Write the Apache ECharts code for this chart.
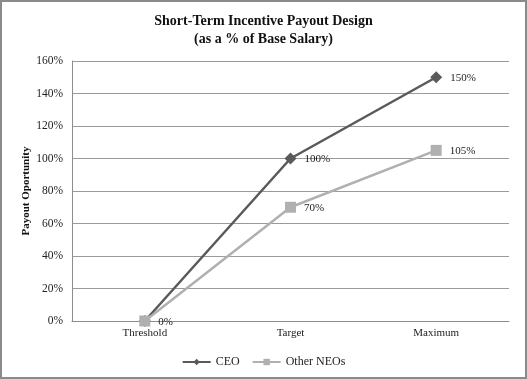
<!DOCTYPE html>
<html><head><meta charset="utf-8">
<script src="https://cdn.jsdelivr.net/npm/echarts@6/dist/echarts.min.js"></script>
<style>
html,body{margin:0;padding:0;background:#fff;}
#c{position:absolute;left:0;top:0;width:523px;height:375px;border:2px solid #8a8a8a;}
</style></head>
<body><div id="c"></div>
<script>
const categories = ['Threshold', 'Target', 'Maximum'];
const ceo = [0, 100, 150];
const otherNEOs = [0, 70, 105];
const yTicks = [0, 20, 40, 60, 80, 100, 120, 140, 160];

const chart = echarts.init(document.getElementById('c'));
const font = 'Liberation Serif, Times New Roman, serif';
const labelCfg = {show: true, position: 'right', distance: 8, offset: [0, 1], formatter: p => p.value + '%', color: '#222', fontFamily: font, fontSize: 11};
chart.setOption({
  animation: false,
  title: {
    text: 'Short-Term Incentive Payout Design\n(as a % of Base Salary)',
    left: 'center', top: 5,
    textStyle: {fontFamily: font, fontWeight: 'bold', fontSize: 14, color: '#111', lineHeight: 18}
  },
  grid: {left: 70, right: 16, top: 59, bottom: 56},
  legend: {
    top: 349, left: 'center', itemWidth: 28, itemHeight: 8, itemGap: 12,
    textStyle: {fontFamily: font, fontSize: 12, color: '#222'},
    data: ['CEO', 'Other NEOs']
  },
  xAxis: {
    type: 'category', data: categories, boundaryGap: true,
    axisLine: {lineStyle: {color: '#8c8c8c'}}, axisTick: {show: false},
    axisLabel: {fontFamily: font, fontSize: 11, color: '#222', margin: 7}
  },
  yAxis: {
    type: 'value', min: yTicks[0], max: yTicks[yTicks.length - 1], interval: 20,
    name: 'Payout Oportunity', nameLocation: 'middle', nameGap: 40, nameMoveOverlap: false,
    nameTextStyle: {fontFamily: font, fontWeight: 'bold', fontSize: 11, color: '#111'},
    axisLine: {show: true, lineStyle: {color: '#8c8c8c'}}, axisTick: {show: false},
    axisLabel: {formatter: '{value}%', fontFamily: font, fontSize: 11.5, color: '#222', margin: 9},
    splitLine: {lineStyle: {color: '#9a9a9a'}}
  },
  series: [
    {name: 'CEO', type: 'line', data: ceo.map((v, i) => i === 0 ? {value: v, label: {show: false}} : v),
     symbol: 'diamond', symbolSize: 12,
     lineStyle: {color: '#5a5a5a', width: 2.5}, itemStyle: {color: '#5a5a5a'}, label: labelCfg},
    {name: 'Other NEOs', type: 'line', data: otherNEOs, symbol: 'rect', symbolSize: 11,
     lineStyle: {color: '#b0b0b0', width: 2.5}, itemStyle: {color: '#b0b0b0'}, label: labelCfg}
  ]
});
</script></body></html>
